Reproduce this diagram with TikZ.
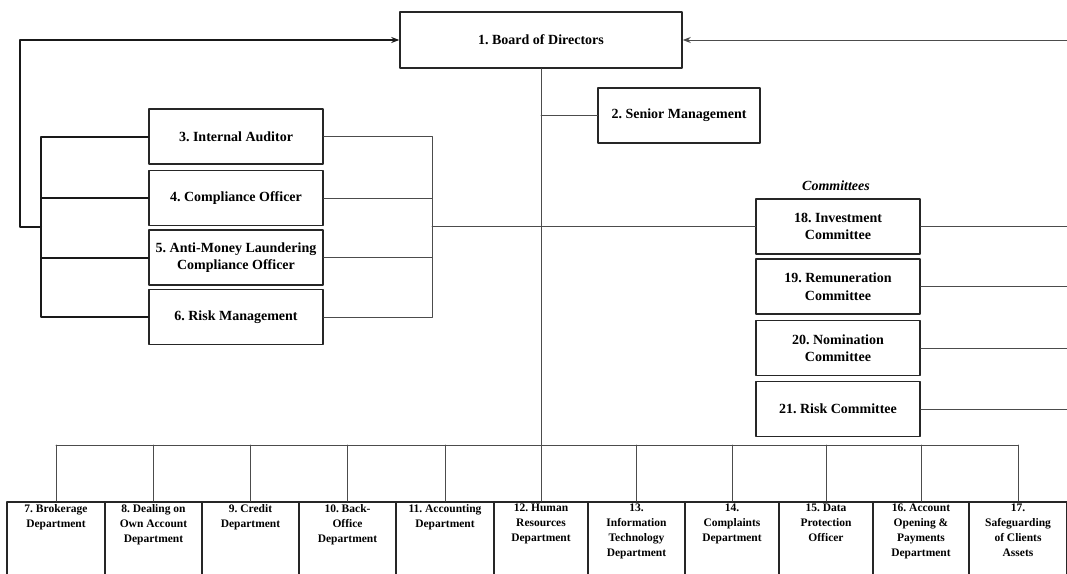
\documentclass[tikz,border=0pt]{standalone}
\usepackage{fontspec}
\setmainfont{Liberation Serif}
\usetikzlibrary{arrows.meta}
\frenchspacing

\begin{document}
\begin{tikzpicture}[x=1pt, y=-1pt, >={Stealth[length=8pt, width=6pt]}, line join=round, line cap=round,
	every node/.style={font=\fontsize{14}{17.5}\selectfont\bfseries},
	unit/.style={draw=black!85, line width=1.5pt, align=center, inner sep=2pt},
	dept/.style={draw=black!85, line width=1.5pt, align=center, anchor=north, inner xsep=0pt, inner ysep=2.5pt, text depth=90pt, font=\fontsize{11.5}{15}\selectfont\bfseries},
	link/.style={line width=1pt, black!70},
	feed/.style={line width=2pt, black!90}]
		
		\useasboundingbox (0,0) rectangle (1067,573);
		\clip (0,0) rectangle (1067,573);
		
		\node[unit, minimum width=282pt, minimum height=56pt] (board) at (541,40) {1. Board of Directors};
		\node[unit, minimum width=162pt, minimum height=55pt] (senior) at (679,115.5) {2. Senior Management};
		
		\foreach \n/\yc/\txt in {3/136.5/{3. Internal Auditor}, 4/198/{4. Compliance Officer}, 5/257.5/{5. Anti-Money Laundering\\Compliance Officer}, 6/317/{6. Risk Management}} {
			\node[unit, minimum width=174pt, minimum height=55pt] (ctl\n) at (236,\yc) {\txt};
		}
		
		\node[font=\fontsize{14}{17.5}\selectfont\bfseries\itshape] (comtitle) at (836,186) {Committees};
		\foreach \n/\yc/\txt in {18/226.5/{18. Investment\\Committee}, 19/286.5/{19. Remuneration\\Committee}, 20/348/{20. Nomination\\Committee}, 21/409/{21. Risk Committee}} {
			\node[unit, minimum width=164pt, minimum height=55pt] (com\n) at (838,\yc) {\txt};
		}
		
		\foreach \n/\xc/\w/\txt in {7/56/98/{7. Brokerage\\Department}, 8/153.5/97/{8. Dealing on\\Own Account\\Department}, 9/250.5/97/{9. Credit\\Department}, 10/347.5/97/{10. Back-\\Office\\Department}, 11/445/98/{11. Accounting\\Department}, 12/541/94/{12. Human\\Resources\\Department}, 13/636.5/97/{13.\\Information\\Technology\\Department}, 14/732/94/{14.\\Complaints\\Department}, 15/826/94/{15. Data\\Protection\\Officer}, 16/921/96/{16. Account\\Opening \&\\Payments\\Department}, 17/1018/98/{17.\\Safeguarding\\of Clients\\Assets}} {
			\node[dept, minimum width=\w pt] (dep\n) at (\xc,501) {\txt};
		}
		
		\coordinate (leftbar) at (41,227);
		\coordinate (leftturn) at (20,227);
		\coordinate (rightbar) at (432,227);
		\coordinate (bus) at (541,445);
		\coordinate (rightedge) at (1067,40);
		
		\draw[feed] (ctl3.west) -- (ctl3.west -| leftbar) -- (ctl6.west -| leftbar) -- (ctl6.west);
		\foreach \n in {4,5} {
			\draw[feed] (ctl\n.west) -- (ctl\n.west -| leftbar);
		}
		\draw[feed, ->] (leftbar) -- (leftturn) |- (board.west);
		
		\draw[link] (ctl3.east) -- (ctl3.east -| rightbar) -- (ctl6.east -| rightbar) -- (ctl6.east);
		\foreach \n in {4,5} {
			\draw[link] (ctl\n.east) -- (ctl\n.east -| rightbar);
		}
		\draw[link] (rightbar |- com18.west) -- (com18.west);
		
		\draw[link] (board.south) -- (bus);
		\draw[link] (board.south |- senior.west) -- (senior.west);
		\draw[link] (dep7.north |- bus) -- (dep17.north |- bus);
		\foreach \n in {7,...,17} {
			\draw[link] (dep\n.north |- bus) -- (dep\n.north);
		}
		
		\draw[link, ->] (rightedge) -- (board.east);
		\foreach \n in {18,...,21} {
			\draw[link] (com\n.east) -- (com\n.east -| rightedge);
		}
		
	\end{tikzpicture}
\end{document}
